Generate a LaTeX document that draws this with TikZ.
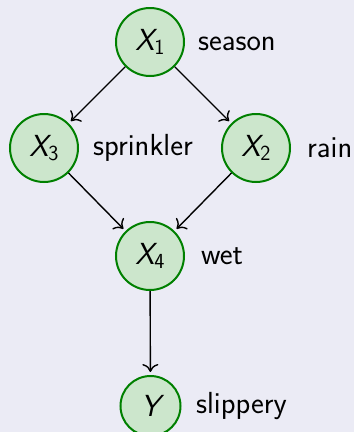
\documentclass[tikz,border=0pt]{standalone}
\usepackage{fontspec}
\usetikzlibrary{arrows.meta}
\definecolor{bgc}{RGB}{235,235,245}
\definecolor{nodefill}{RGB}{204,230,204}
\definecolor{nodedraw}{RGB}{0,128,0}
\tikzset{
  bn/.style={circle, draw=nodedraw, fill=nodefill, line width=2pt, inner sep=0pt, minimum size=68pt,
    font=\fontsize{30.5}{36}\selectfont\sffamily},
  bnsmall/.style={bn, minimum size=60pt},
  lbl/.style={anchor=west, inner sep=0pt, font=\fontsize{30.5}{36}\selectfont\sffamily},
  edge/.style={-{To[length=8pt,width=16pt]}, line width=1.4pt, shorten >=3pt}
}
\newcommand{\var}[2]{{\itshape #1}\raisebox{-0.3ex}{\fontsize{21.5}{26}\selectfont #2}}
\begin{document}
\begin{tikzpicture}[x=1pt,y=-1pt]
\fill[bgc] (0,0) rectangle (354,432);
\useasboundingbox (0,0) rectangle (354,432);
\node[bn] (x1) at (150,42) {\var{X}{1}};
\node[bn] (x3) at (44,148) {\var{X}{3}};
\node[bn] (x2) at (256,148) {\var{X}{2}};
\node[bn] (x4) at (150,256) {\var{X}{4}};
\node[bnsmall] (y) at (150.5,406) {\itshape Y};
\node[lbl] (l1) at (198,44) {season};
\node[lbl] (l3) at (93,148) {sprinkler};
\node[lbl] (l2) at (307,148) {rain};
\node[lbl] (l4) at (201,256) {wet};
\node[lbl] (ly) at (196,406) {slippery};
\draw[edge] (x1) -- (x3);
\draw[edge] (x1) -- (x2);
\draw[edge] (x3) -- (x4);
\draw[edge] (x2) -- (x4);
\draw[edge] (x4) -- (y);
\end{tikzpicture}
\end{document}
